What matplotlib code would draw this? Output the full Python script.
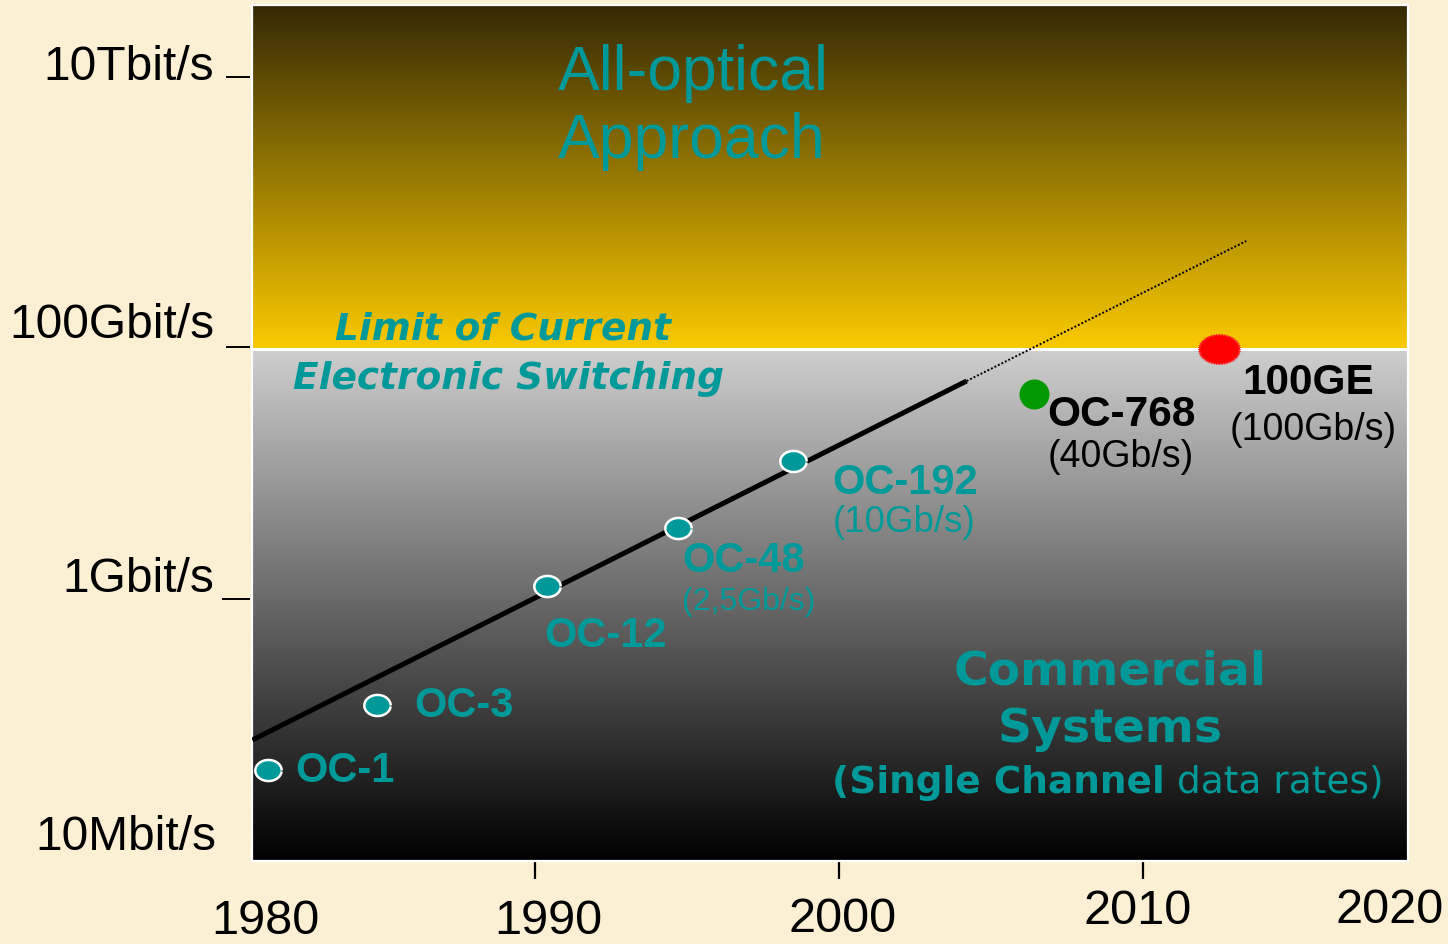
import numpy as np
import matplotlib
matplotlib.use('Agg')
import matplotlib.pyplot as plt
from matplotlib.lines import Line2D

# SONET line rates along the growth trend (year, Gb/s)
oc_names = ['OC-1', 'OC-3', 'OC-12', 'OC-48', 'OC-192']
oc_years = [1981.2, 1984.8, 1990.4, 1994.7, 1998.5]
oc_gbps = [0.0174, 0.066, 0.77, 2.5, 10]
oc_rates = ['', '', '', '(2,5Gb/s)', '(10Gb/s)']

# newer systems, plotted off the trend
new_names = ['OC-768', '100GE']
new_years = [2006.4, 2012.5]
new_gbps = [40, 100]
new_rates = ['(40Gb/s)', '(100Gb/s)']

# trend line: observed part and extrapolation
trend_years = [1980.7, 2004.2]
trend_gbps = [0.0323, 51.8]
extrap_years = [2004.2, 2013.4]
extrap_gbps = [51.8, 921]

electronic_limit = 100  # Gb/s

year_ticks = [1990, 2000, 2010]
year_labels = ['1980', '1990', '2000', '2010', '2020']
rate_labels = ['10Tbit/s', '100Gbit/s', '1Gbit/s', '10Mbit/s']

W, H = 1448, 945
TEAL = '#009999'
ARIAL = 'Liberation Sans'


def fx(x):
    return x / W


def fy(y):
    return 1 - y / H


fig = plt.figure(figsize=(W / 100, H / 100), dpi=100)
fig.patch.set_facecolor('#fbefd4')

ax = fig.add_axes([fx(252), fy(862), fx(1408) - fx(252), fy(6) - fy(862)])
ax.set_yscale('log')
ax.set_xlim(1980.69, 2018.72)
ylo, yhi = 10 ** -2.571, 10 ** 5.071
ax.set_ylim(ylo, yhi)

# background bands split at the electronic switching limit
split = (np.log10(electronic_limit) - np.log10(ylo)) / (np.log10(yhi) - np.log10(ylo))
t = np.linspace(0, 1, 256)[:, None]
top_c = np.array([53, 41, 5]) / 255
gold = np.array([250, 202, 0]) / 255
upper = (gold + (top_c - gold) * t)[:, None, :]
ax.imshow(upper[::-1], extent=[0, 1, split, 1], transform=ax.transAxes,
          aspect='auto', origin='upper', zorder=0)
grey = np.linspace(0.81, 0.0, 256)
lower = np.repeat(grey[:, None], 3, axis=1)[:, None, :]
ax.imshow(lower, extent=[0, 1, 0, split], transform=ax.transAxes,
          aspect='auto', origin='upper', zorder=0)
ax.axhline(electronic_limit, color='white', lw=2.2, zorder=2)

for s in ax.spines.values():
    s.set_color('white')
    s.set_linewidth(1.6)

# trend and extrapolation
ax.plot(trend_years, trend_gbps, color='black', lw=3.6, solid_capstyle='butt', zorder=3)
ax.plot(extrap_years, extrap_gbps, color='black', lw=1.4, ls=(0, (1, 1)), zorder=3)

ang = np.linspace(0, 2 * np.pi, 64, endpoint=False)
oval = np.column_stack([np.cos(ang), 0.8 * np.sin(ang)])
ax.plot(oc_years, oc_gbps, ls='none', marker=oval, ms=19, mfc=TEAL,
        mec='white', mew=1.8, zorder=4)

ax.plot(new_years[0], new_gbps[0], ls='none', marker='o', ms=21.6,
        mfc='#009900', mec='none', zorder=4)
teeth = np.linspace(0, 2 * np.pi, 96, endpoint=False)
r = 1 + 0.05 * (-1) ** np.arange(96)
gear = np.column_stack([r * np.cos(teeth), 0.72 * r * np.sin(teeth)])
ax.plot(new_years[1], new_gbps[1], ls='none', marker=gear, ms=30.5,
        mfc='#ff0000', mec='#ff2020', mew=0.6, zorder=4)

# labels next to each rate
oc_off = [(28, 0), (37, 0), (-3, -49), (4, -32), (39, -21)]
oc_sub = [None, None, None, (4, -73, 23), (39, -60, 26.5)]
for i, name in enumerate(oc_names):
    dx, dy = oc_off[i]
    ax.annotate(name, (oc_years[i], oc_gbps[i]), xytext=(dx, dy),
                textcoords='offset pixels', ha='left', va='center',
                color=TEAL, fontsize=30, fontweight='bold', family=ARIAL, zorder=5)
    if oc_rates[i]:
        sx, sy, sz = oc_sub[i]
        ax.annotate(oc_rates[i], (oc_years[i], oc_gbps[i]), xytext=(sx, sy),
                    textcoords='offset pixels', ha='left', va='center',
                    color=TEAL, fontsize=sz, family=ARIAL, zorder=5)

new_off = [(14, -20), (23, -33)]
new_sub = [(14, -62), (11, -80)]
for i, name in enumerate(new_names):
    ax.annotate(name, (new_years[i], new_gbps[i]), xytext=new_off[i],
                textcoords='offset pixels', ha='left', va='center',
                color='black', fontsize=30.5, fontweight='bold', family=ARIAL, zorder=5)
    ax.annotate(new_rates[i], (new_years[i], new_gbps[i]), xytext=new_sub[i],
                textcoords='offset pixels', ha='left', va='center',
                color='black', fontsize=27, family=ARIAL, zorder=5)

# region captions
fig.text(fx(558), fy(90), 'All-optical', color=TEAL, fontsize=45,
         family=ARIAL, ha='left', va='baseline')
fig.text(fx(558), fy(158), 'Approach', color=TEAL, fontsize=45,
         family=ARIAL, ha='left', va='baseline')
fig.text(fx(335), fy(339), 'Limit of Current', color=TEAL, fontsize=27,
         family='DejaVu Sans', fontweight='bold', style='oblique',
         ha='left', va='baseline')
fig.text(fx(293), fy(389), 'Electronic Switching', color=TEAL, fontsize=27,
         family='DejaVu Sans', fontweight='bold', style='oblique',
         ha='left', va='baseline')
fig.text(fx(1110), fy(672), 'Commercial', color=TEAL, fontsize=34,
         family='DejaVu Sans', fontweight='bold', ha='center', va='center')
fig.text(fx(1110), fy(730), 'Systems', color=TEAL, fontsize=34,
         family='DejaVu Sans', fontweight='bold', ha='center', va='center')
bold_part = fig.text(fx(832), fy(783), '(Single Channel', color=TEAL, fontsize=27,
                     family='DejaVu Sans', fontweight='bold', ha='left', va='center')
ax.annotate(' data rates)', xy=(1, 0), xycoords=bold_part, ha='left', va='bottom',
            color=TEAL, fontsize=27, family='DejaVu Sans', annotation_clip=False)

# axes decorations
ax.set_yticks([])
ax.minorticks_off()
ax.set_xticks(year_ticks)
ax.set_xticklabels([])
ax.tick_params(axis='x', direction='out', length=13, width=1.6, color='black')

year_pos = [(265, 922), (548, 922), (843, 920), (1138, 912), (1390, 911)]
for lab, (x, y) in zip(year_labels, year_pos):
    fig.text(fx(x), fy(y), lab, fontsize=35, family=ARIAL, ha='center', va='center')

rate_pos = [(214, 68), (214, 325), (214, 580), (216, 838)]
for lab, (x, y) in zip(rate_labels, rate_pos):
    fig.text(fx(x), fy(y), lab, fontsize=34.5, family=ARIAL, ha='right', va='center')

for x0, y in [(227, 78), (227, 348), (223, 600)]:
    fig.add_artist(Line2D([fx(x0), fx(249)], [fy(y), fy(y)], color='black',
                          lw=1.4, transform=fig.transFigure))

fig.savefig('out.png', dpi=100, facecolor=fig.get_facecolor())
